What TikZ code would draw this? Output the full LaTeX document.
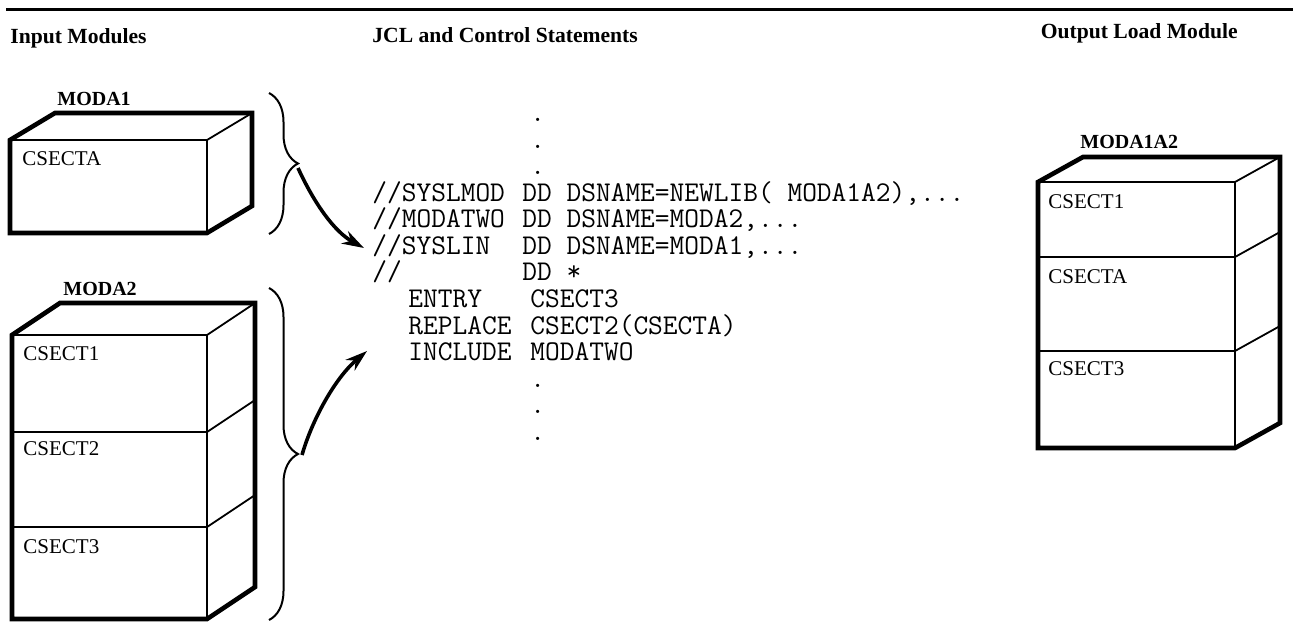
\documentclass[tikz,border=0pt]{standalone}
\usepackage{fontspec}
\setmainfont{Liberation Serif}
\usetikzlibrary{arrows.meta,decorations.pathreplacing}

\tikzset{
    outline/.style={line width=2.3pt, line join=miter},
    inedge/.style={line width=0.9pt},
    hdr/.style={font=\bfseries\fontsize{10.8}{13}\selectfont, anchor=base west, inner sep=0pt},
    modname/.style={font=\bfseries\fontsize{10}{12}\selectfont, anchor=base west, inner sep=0pt},
    sect/.style={font=\fontsize{10.5}{12}\selectfont, anchor=base west, inner sep=0pt},
    jcl/.style={font=\ttfamily\fontsize{14.3}{16}\selectfont, anchor=base west, inner sep=0pt},
    brc/.style={decorate, decoration={brace, amplitude=14.5pt}, line width=1pt},
    flow/.style={-{Stealth[length=11pt, width=7pt]}, line width=1.8pt},
}

\begin{document}
\begin{tikzpicture}[x=0.5pt, y=-0.5pt]
    \useasboundingbox (0,0) rectangle (1293,622);

    % Rule and column headings
    \draw[line width=1.5pt] (6,9) -- (1293,9);
    \node[hdr] (hin) at (10,43) {Input Modules};
    \node[hdr] (hjcl) at (372,42) {JCL and Control Statements};
    \node[hdr, anchor=base east] (hout) at (1238,38) {Output Load Module};

    % MODA1: front 10..207 x 140..233, depth (45,-27)
    \draw[outline] (10,233) -- (10,140) -- (55,113) -- (252,113) -- (252,206) -- (207,233) -- cycle;
    \draw[inedge] (10,140) -- (207,140) -- (252,113);
    \draw[inedge] (207,140) -- (207,233);
    \node[modname] (m1) at (57,105) {MODA1};
    \node[sect] (m1a) at (22,165) {CSECTA};

    % MODA2: front 12..207 x 335..619, depth (48,-32)
    \draw[outline] (12,619) -- (12,335) -- (60,303) -- (255,303) -- (255,587) -- (207,619) -- cycle;
    \draw[inedge] (12,335) -- (207,335) -- (255,303);
    \draw[inedge] (207,335) -- (207,619);
    \draw[inedge] (12,432) -- (207,432) -- (255,400);
    \draw[inedge] (12,527) -- (207,527) -- (255,495);
    \node[modname] (m2) at (63,295) {MODA2};
    \node[sect] (m2s1) at (23,360) {CSECT1};
    \node[sect] (m2s2) at (23,455) {CSECT2};
    \node[sect] (m2s3) at (23,553) {CSECT3};

    % MODA1A2: front 1038..1235 x 182..448, depth (45,-25)
    \draw[outline] (1038,448) -- (1038,182) -- (1083,157) -- (1280,157) -- (1280,423) -- (1235,448) -- cycle;
    \draw[inedge] (1038,182) -- (1235,182) -- (1280,157);
    \draw[inedge] (1235,182) -- (1235,448);
    \draw[inedge] (1038,257) -- (1235,257) -- (1280,232);
    \draw[inedge] (1038,351) -- (1235,351) -- (1280,326);
    \node[modname] (m3) at (1080,148) {MODA1A2};
    \node[sect] (m3s1) at (1048,208) {CSECT1};
    \node[sect] (m3sa) at (1048,283) {CSECTA};
    \node[sect] (m3s3) at (1048,375) {CSECT3};

    % Braces round the input modules
    \draw[brc] (269,93) -- (269,234);
    \draw[brc] (269,288) -- (269,620);
    \coordinate (b1tip) at (298,168);
    \coordinate (b2tip) at (302,455);

    % JCL and control statements
    \foreach \y/\n in {121/d1, 148/d2, 174/d3, 387/d4, 413/d5, 440/d6} {
        \node[jcl] (\n) at (530,\y) {.};
    }
    \node[jcl] (lmod) at (372,201) {//SYSLMOD};
    \node[jcl] (lmoddd) at (522,201) {DD DSNAME=NEWLIB( MODA1A2),...};
    \node[jcl] (mtwo) at (372,227) {//MODATWO};
    \node[jcl] (mtwodd) at (522,227) {DD DSNAME=MODA2,...};
    \node[jcl] (slin) at (372,254) {//SYSLIN};
    \node[jcl] (slindd) at (522,254) {DD DSNAME=MODA1,...};
    \node[jcl] (inst) at (372,280) {//};
    \node[jcl] (instdd) at (522,280) {DD *};
    \node[jcl] (entry) at (408,307) {ENTRY};
    \node[jcl] (entryop) at (530,307) {CSECT3};
    \node[jcl] (repl) at (408,334) {REPLACE};
    \node[jcl] (replop) at (530,334) {CSECT2(CSECTA)};
    \node[jcl] (incl) at (408,360) {INCLUDE};
    \node[jcl] (inclop) at (530,360) {MODATWO};
    \coordinate (slinin) at (364,248);
    \coordinate (inclin) at (367,351);

    % Arrows from the braces
    \draw[flow] (b1tip) .. controls (315,205) and (335,232) .. (slinin);
    \draw[flow] (b2tip) .. controls (312,420) and (335,378) .. (inclin);
\end{tikzpicture}
\end{document}
